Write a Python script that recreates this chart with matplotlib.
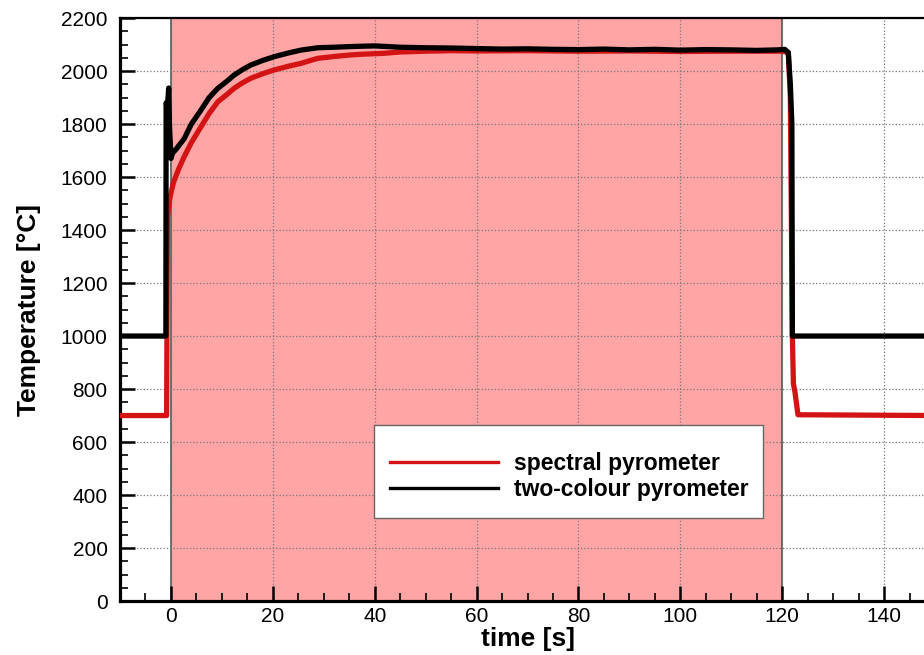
import matplotlib.pyplot as plt
from matplotlib.patches import Rectangle
from matplotlib.ticker import MultipleLocator

plt.rcParams['font.family'] = ['Liberation Sans', 'DejaVu Sans']

# two-colour pyrometer trace [s, degC]
t_two = [-10, -1.0, -0.95, -0.7, -0.45, -0.3, 0.0, 0.3, 1.0, 2.0, 2.6, 4.0, 5.9,
         7.5, 9.2, 11.0, 12.4, 14.0, 15.7, 18.0, 20.2, 23.0, 25.5, 28.8, 32, 36,
         40, 45, 50, 55, 60, 65, 70, 75, 80, 85, 90, 95, 100, 105, 110, 115,
         119, 120.5, 121.2, 121.6, 121.9, 122.0, 150]
T_two = [1000, 1000, 1880, 1860, 1936, 1800, 1670, 1690, 1705, 1730, 1745, 1800, 1853,
         1900, 1935, 1962, 1985, 2005, 2023, 2040, 2054, 2068, 2079, 2088, 2090, 2093,
         2095, 2090, 2088, 2087, 2085, 2083, 2084, 2082, 2081, 2083, 2080, 2082, 2079,
         2081, 2080, 2078, 2080, 2082, 2070, 1950, 1800, 1000, 1000]

# spectral pyrometer trace [s, degC]
t_spec = [-10, -0.85, -0.7, -0.3, 0.0, 0.5, 1.5, 2.6, 4.0, 5.9, 7.5, 9.2, 11.0,
          12.4, 14.0, 15.7, 18.0, 20.2, 23.0, 25.5, 28.8, 32, 35.3, 38, 41.8, 45,
          50, 55, 60, 70, 80, 90, 100, 110, 120, 121.2, 121.6, 122.0, 122.2,
          122.5, 123.1, 150]
T_spec = [700, 700, 1450, 1510, 1540, 1580, 1630, 1677, 1730, 1790, 1840, 1884, 1912,
          1935, 1955, 1973, 1990, 2004, 2018, 2029, 2048, 2055, 2061, 2064, 2067, 2072,
          2075, 2077, 2076, 2077, 2075, 2076, 2074, 2075, 2075, 2070, 1900, 1000, 820,
          790, 703, 700]

heating_start, heating_end = 0, 120

fig = plt.figure(figsize=(9.24, 6.55), dpi=100)
ax = fig.add_axes([0.1299, 0.0824, 0.882, 0.890])

ax.axvspan(heating_start, heating_end, facecolor='#ffa5a5', edgecolor='#555555', lw=1.2)
ax.plot(t_spec, T_spec, color='#d41414', lw=3.8, label='spectral pyrometer', zorder=3)
ax.plot(t_two, T_two, color='black', lw=3.8, label='two-colour pyrometer', zorder=4)

ax.set_xlim(-10, 150)
ax.set_ylim(0, 2200)
ax.xaxis.set_major_locator(MultipleLocator(20))
ax.xaxis.set_minor_locator(MultipleLocator(5))
ax.yaxis.set_major_locator(MultipleLocator(200))
ax.yaxis.set_minor_locator(MultipleLocator(50))
ax.tick_params(which='both', direction='in', top=False, right=False, labelsize=15)
ax.tick_params(which='major', length=11, width=1.8)
ax.tick_params(which='minor', length=5.8, width=1.2)
ax.tick_params(axis='x', pad=4)
ax.tick_params(axis='y', pad=9)
ax.grid(True, which='major', linestyle=':', color='#777777', lw=0.9)

ax.spines['left'].set_linewidth(2.3)
ax.spines['bottom'].set_linewidth(2.3)
ax.spines['top'].set_linewidth(1.6)

ax.set_xlabel('time [s]', fontsize=19, fontweight='bold', labelpad=1)
ax.set_ylabel('Temperature [°C]', fontsize=19, fontweight='bold', labelpad=14)

# legend box drawn separately so its padding can be set freely
box = Rectangle((0.3117, 0.1424), 0.4773, 0.1595, transform=ax.transAxes,
                facecolor='white', edgecolor='#666666', lw=1.0, zorder=5)
ax.add_patch(box)
leg = ax.legend(loc='upper left', bbox_to_anchor=(0.3313, 0.2556), frameon=False,
                prop={'size': 16.5, 'weight': 'bold'}, handlelength=4.7, handletextpad=0.7,
                labelspacing=0.15, borderpad=0, borderaxespad=0)
leg.set_zorder(6)
for handle in leg.get_lines():
    handle.set_linewidth(2.4)

fig.savefig('out.png', dpi=100)
